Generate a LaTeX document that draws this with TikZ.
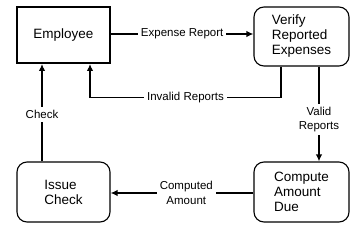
\documentclass[tikz,border=0pt]{standalone}
\usepackage{fontspec}
\setmainfont{Liberation Sans}
\usetikzlibrary{arrows.meta,calc}
\begin{document}
\begin{tikzpicture}[x=1pt,y=-1pt,
  boxtext/.style={font=\fontsize{13.5}{15}\selectfont, align=left},
  plainbox/.style={draw, line width=1.8pt, minimum width=93pt, minimum height=56pt, inner sep=0pt},
  roundbox/.style={draw, line width=1.1pt, rounded corners=10pt, inner sep=0pt},
  conn/.style={line width=1.5pt, -{Latex[length=7pt,width=6.5pt]}},
  lbl/.style={font=\fontsize{11.5}{14.5}\selectfont, fill=white, inner sep=3pt, align=center}]
\useasboundingbox (0,0) rectangle (362,231);
\node[plainbox, boxtext] (emp) at (63.5,35) {Employee};
\node[roundbox, boxtext, minimum width=95pt, minimum height=59pt] (ver) at (301.5,36.5) {Verify\\Reported\\Expenses};
\node[roundbox, boxtext, minimum width=93pt, minimum height=60pt] (iss) at (63.5,192) {Issue\\Check};
\node[roundbox, boxtext, minimum width=95pt, minimum height=60pt] (comp) at (301.5,192) {Compute\\Amount\\Due};
\draw[conn] ([yshift=1pt]emp.east) -- node[lbl] {Expense Report} ([yshift=1pt]emp.east -| ver.west);
\draw[conn] ([xshift=-20.5pt]ver.south) -- ++(0,31) -| node[lbl, pos=0.25] {Invalid Reports} ([xshift=26.5pt]emp.south);
\draw[conn] ([xshift=17.5pt]ver.south) -- node[lbl, pos=0.56] {Valid\\Reports} ([xshift=17.5pt]comp.north);
\draw[conn] ([yshift=-1pt]comp.west) -- node[lbl, pos=0.47] {Computed\\Amount} ([yshift=-1pt]comp.west -| iss.east);
\draw[conn] ([xshift=-21.5pt]iss.north) -- node[lbl, pos=0.48] {Check} ([xshift=-21.5pt]emp.south);
\end{tikzpicture}
\end{document}
